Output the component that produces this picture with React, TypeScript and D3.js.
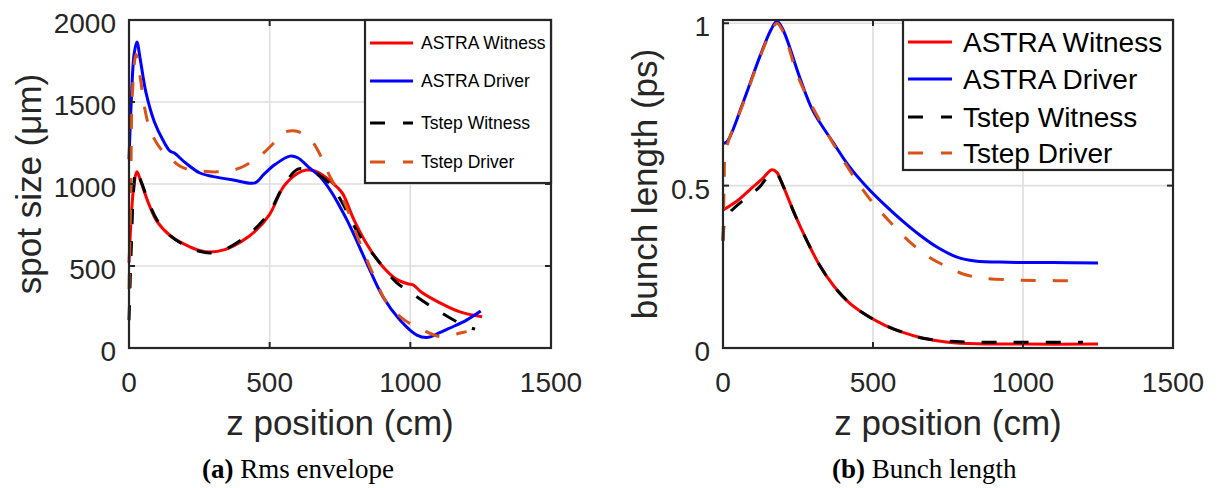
import React, { useRef, useEffect } from 'react';
import * as d3 from 'd3';

// z position (cm) vs spot size (um)
const envAstraWitness: [number, number][] = [
  [0, 520], [8, 800], [18, 1000], [28, 1075], [45, 1000], [70, 880], [100, 770], [150, 680],
  [200, 630], [250, 595], [290, 585], [340, 600], [400, 650], [450, 715], [500, 815], [550, 985],
  [600, 1065], [630, 1085], [660, 1080], [700, 1040], [740, 980], [760, 940], [800, 780],
  [850, 620], [900, 500], [950, 420], [990, 392], [1010, 385], [1040, 340], [1100, 280],
  [1177, 220], [1255, 190],
];
const envAstraDriver: [number, number][] = [
  [0, 1150], [8, 1500], [18, 1790], [28, 1866], [40, 1760], [60, 1560], [90, 1380], [120, 1270],
  [146, 1200], [160, 1190], [200, 1130], [252, 1067], [300, 1045], [370, 1025], [448, 1007],
  [480, 1060], [520, 1120], [572, 1170], [600, 1160], [640, 1100], [680, 1043], [720, 950],
  [750, 860], [775, 780], [800, 690], [845, 518], [903, 311], [963, 171], [1023, 79], [1064, 65],
  [1100, 90], [1141, 122], [1200, 170], [1250, 225],
];
const envTstepWitness: [number, number][] = [
  [0, 170], [8, 600], [16, 950], [25, 1085], [40, 1030], [70, 890], [100, 780], [150, 680],
  [200, 625], [250, 590], [290, 580], [340, 600], [400, 660], [450, 730], [500, 830], [550, 990],
  [600, 1090], [640, 1085], [680, 1050], [720, 990], [760, 880], [815, 700], [892, 518],
  [950, 400], [988, 354], [1050, 280], [1105, 220], [1188, 140], [1230, 115],
];
const envTstepDriver: [number, number][] = [
  [0, 360], [6, 900], [12, 1550], [25, 1790], [40, 1650], [55, 1470], [75, 1330], [110, 1220],
  [146, 1160], [180, 1110], [217, 1086], [260, 1078], [312, 1074], [360, 1082], [395, 1098],
  [440, 1140], [478, 1189], [520, 1260], [548, 1311], [584, 1325], [620, 1305], [655, 1250],
  [690, 1140], [715, 1043], [762, 903], [821, 640], [870, 440], [917, 275], [980, 170],
  [1045, 110], [1105, 70], [1150, 80], [1177, 91], [1200, 100],
];

// z position (cm) vs bunch length (ps)
const blAstraWitness: [number, number][] = [
  [0, 0.425], [13, 0.432], [50, 0.455], [90, 0.488], [130, 0.52], [163, 0.549], [180, 0.54],
  [200, 0.5], [240, 0.41], [280, 0.33], [320, 0.258], [370, 0.19], [420, 0.14], [480, 0.1],
  [540, 0.07], [600, 0.048], [667, 0.03], [750, 0.018], [850, 0.013], [1000, 0.012], [1250, 0.012],
];
const blAstraDriver: [number, number][] = [
  [0, 0.63], [13, 0.635], [67, 0.756], [123, 0.898], [160, 0.98], [180, 1.006], [200, 0.98],
  [257, 0.83], [300, 0.73], [367, 0.633], [420, 0.56], [480, 0.495], [540, 0.44], [600, 0.39],
  [660, 0.345], [720, 0.307], [780, 0.28], [840, 0.268], [950, 0.264], [1100, 0.263], [1250, 0.262],
];
const blTstepWitness: [number, number][] = [
  [0, 0.33], [8, 0.4], [25, 0.42], [57, 0.447], [90, 0.47], [123, 0.497], [163, 0.54],
  [180, 0.535], [200, 0.5], [240, 0.41], [280, 0.33], [320, 0.258], [370, 0.19], [420, 0.14],
  [480, 0.1], [540, 0.07], [600, 0.048], [667, 0.03], [750, 0.021], [850, 0.018], [1000, 0.018],
  [1200, 0.018],
];
const blTstepDriver: [number, number][] = [
  [0, 0.33], [4, 0.5], [10, 0.61], [67, 0.752], [123, 0.895], [160, 0.975], [180, 1.0],
  [200, 0.975], [257, 0.82], [367, 0.63], [480, 0.47], [560, 0.385], [633, 0.318], [690, 0.278],
  [747, 0.25], [800, 0.228], [857, 0.216], [950, 0.21], [1050, 0.208], [1190, 0.207],
];

const seriesNames = ['ASTRA Witness', 'ASTRA Driver', 'Tstep Witness', 'Tstep Driver'];
const seriesColors = ['#ff0000', '#0000ff', '#000000', '#d95319'];
const seriesDashed = [false, false, true, true];

const xTicks = [0, 500, 1000, 1500];
const envYTicks = [0, 500, 1000, 1500, 2000];
const blYTicks = [0, 0.5, 1];
const blYTickLabels = ['0', '0.5', '1'];

const App = () => {
  const svgRef = useRef(null);

  useEffect(() => {
    const svg = d3.select(svgRef.current);
    svg.selectAll('*').remove();
    const axisColor = '#262626';
    const font = '"Liberation Sans", Arial, sans-serif';

    const drawPanel = (opts) => {
      const { left, right, top, bottom, yMax, yTicks, yLabels, data, ylabel, ylabelX, legend, caption } = opts;
      const x = d3.scaleLinear().domain([0, 1500]).range([left, right]);
      const y = d3.scaleLinear().domain([0, yMax]).range([bottom, top]);
      const g = svg.append('g');

      // grid
      g.selectAll('.vg').data(xTicks.slice(1, -1)).join('line')
        .attr('x1', (d) => x(d)).attr('x2', (d) => x(d))
        .attr('y1', top).attr('y2', bottom)
        .attr('stroke', '#dedede').attr('stroke-width', 1.6);
      g.selectAll('.hg').data(yTicks.filter((d) => d > 0 && y(d) > top + 2)).join('line')
        .attr('x1', left).attr('x2', right)
        .attr('y1', (d) => y(d)).attr('y2', (d) => y(d))
        .attr('stroke', '#dedede').attr('stroke-width', 1.6);

      // curves
      const line = d3.line().x((d) => x(d[0])).y((d) => y(d[1])).curve(d3.curveCatmullRom.alpha(0.5));
      data.forEach((pts, i) => {
        g.append('path')
          .attr('d', line(pts))
          .attr('fill', 'none')
          .attr('stroke', seriesColors[i])
          .attr('stroke-width', 3)
          .attr('stroke-linejoin', 'round')
          .attr('stroke-dasharray', seriesDashed[i] ? '15,17' : null);
      });

      // box + ticks
      g.append('rect')
        .attr('x', left).attr('y', top)
        .attr('width', right - left).attr('height', bottom - top)
        .attr('fill', 'none').attr('stroke', axisColor).attr('stroke-width', 2.2);
      xTicks.forEach((t) => {
        g.append('line').attr('x1', x(t)).attr('x2', x(t)).attr('y1', bottom).attr('y2', bottom - 6)
          .attr('stroke', axisColor).attr('stroke-width', 2);
        g.append('line').attr('x1', x(t)).attr('x2', x(t)).attr('y1', top).attr('y2', top + 6)
          .attr('stroke', axisColor).attr('stroke-width', 2);
      });
      yTicks.forEach((t) => {
        g.append('line').attr('x1', left).attr('x2', left + 6).attr('y1', y(t)).attr('y2', y(t))
          .attr('stroke', axisColor).attr('stroke-width', 2);
        g.append('line').attr('x1', right).attr('x2', right - 6).attr('y1', y(t)).attr('y2', y(t))
          .attr('stroke', axisColor).attr('stroke-width', 2);
      });

      g.selectAll('.xt').data(xTicks).join('text')
        .attr('x', (d) => x(d)).attr('y', bottom + 44)
        .attr('text-anchor', 'middle')
        .attr('font-family', font).attr('font-size', 28).attr('fill', axisColor)
        .text((d) => String(d));
      g.selectAll('.yt').data(yTicks).join('text')
        .attr('x', left - 13).attr('y', (d) => y(d) + 13)
        .attr('text-anchor', 'end')
        .attr('font-family', font).attr('font-size', 28).attr('fill', axisColor)
        .text((d, i) => yLabels[i]);

      g.append('text')
        .attr('x', (left + right) / 2).attr('y', 435)
        .attr('text-anchor', 'middle')
        .attr('font-family', font).attr('font-size', 35).attr('fill', axisColor)
        .text('z position (cm)');
      g.append('text')
        .attr('transform', `translate(${ylabelX},${(top + bottom) / 2}) rotate(-90)`)
        .attr('text-anchor', 'middle')
        .attr('font-family', font).attr('font-size', 35).attr('fill', axisColor)
        .text(ylabel);

      // legend
      const lg = g.append('g');
      lg.append('rect')
        .attr('x', legend.x).attr('y', top)
        .attr('width', right - legend.x).attr('height', legend.h)
        .attr('fill', '#ffffff').attr('stroke', axisColor).attr('stroke-width', 2.2);
      seriesNames.forEach((name, i) => {
        const ly = legend.rows[i];
        lg.append('line')
          .attr('x1', legend.x + 5).attr('x2', legend.x + 5 + legend.len)
          .attr('y1', ly).attr('y2', ly)
          .attr('stroke', seriesColors[i]).attr('stroke-width', 3)
          .attr('stroke-dasharray', seriesDashed[i] ? '15,18' : null);
        lg.append('text')
          .attr('x', legend.x + legend.textDx).attr('y', ly)
          .attr('dy', '0.36em')
          .attr('font-family', font).attr('font-size', legend.size).attr('fill', '#000')
          .text(name);
      });

      const cap = svg.append('text')
        .attr('x', caption.x).attr('y', 478)
        .attr('font-family', '"Liberation Serif", "Times New Roman", serif')
        .attr('font-size', 27).attr('fill', '#000');
      cap.append('tspan').attr('font-weight', 'bold').text(caption.tag);
      cap.append('tspan').text(' ' + caption.text);
    };

    drawPanel({
      left: 129, right: 551, top: 20, bottom: 348, yMax: 2000,
      yTicks: envYTicks, yLabels: envYTicks.map(String),
      data: [envAstraWitness, envAstraDriver, envTstepWitness, envTstepDriver],
      ylabel: 'spot size (μm)', ylabelX: 41,
      legend: { x: 365, h: 163, rows: [43, 81, 123, 162], len: 43, textDx: 56, size: 17.5 },
      caption: { x: 202, tag: '(a)', text: 'Rms envelope' },
    });
    drawPanel({
      left: 723, right: 1173, top: 20, bottom: 348, yMax: 1.01,
      yTicks: blYTicks, yLabels: blYTickLabels,
      data: [blAstraWitness, blAstraDriver, blTstepWitness, blTstepDriver],
      ylabel: 'bunch length (ps)', ylabelX: 657,
      legend: { x: 903, h: 150, rows: [42, 79, 117, 153], len: 44, textDx: 60, size: 28 },
      caption: { x: 832, tag: '(b)', text: 'Bunch length' },
    });
  }, []);

  return (
    <div style={{ position: 'absolute', left: 0, top: 0 }}>
      <svg ref={svgRef} width={1228} height={488} style={{ display: 'block', background: '#fff' }}></svg>
    </div>
  );
};

export default App;
